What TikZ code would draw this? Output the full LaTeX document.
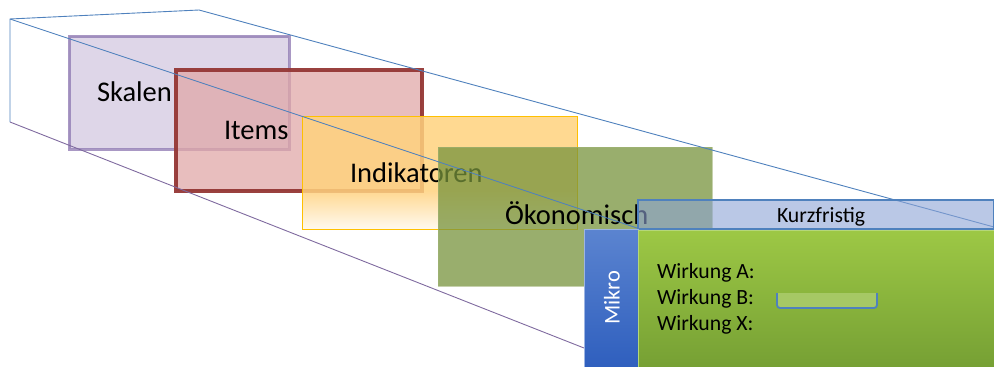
\documentclass[tikz,border=0pt]{standalone}
\usepackage{fontspec}
\setmainfont{Carlito}

\definecolor{skalenfill}{HTML}{D6CCE2}
\definecolor{skalenline}{HTML}{8C76B0}
\definecolor{itemsfill}{HTML}{E0A8A8}
\definecolor{itemsline}{HTML}{953735}
\definecolor{indfill}{HTML}{FFD27E}
\definecolor{indline}{HTML}{FFC000}
\definecolor{oekofill}{HTML}{77933C}
\definecolor{kurzfill}{HTML}{8CA3D5}
\definecolor{kurzline}{HTML}{4F81BD}
\definecolor{mikrotop}{HTML}{5B84D0}
\definecolor{mikrobottom}{HTML}{2F5FBE}
\definecolor{paneltop}{HTML}{9DC845}
\definecolor{panelbottom}{HTML}{76A034}
\definecolor{panelline}{HTML}{B5D77A}
\definecolor{slotfill}{HTML}{A6C865}
\definecolor{boxblue}{HTML}{4F81BD}
\definecolor{boxpurple}{HTML}{7F6A9F}

\pgfdeclareverticalshading{indshade}{100bp}{color(0bp)=(white); color(25bp)=(white!85!indfill); color(42bp)=(indfill); color(100bp)=(indfill)}

\begin{document}
\begin{tikzpicture}[x=1pt,y=-1pt]
            \tikzstyle{every node}=[inner sep=0pt, outer sep=0pt]
            \tikzstyle{layer}=[rectangle, anchor=north west]
            \tikzstyle{biglabel}=[anchor=base west, font=\fontsize{28.5}{34}\selectfont]
            \tikzstyle{smalllabel}=[anchor=base west, font=\fontsize{21.7}{26}\selectfont]
            \tikzstyle{edge}=[line width=0.9pt]

            \useasboundingbox (0,0) rectangle (994,367);

            \coordinate (backTL) at (10,19);
            \coordinate (backTR) at (199,10);
            \coordinate (backBL) at (10,122);
            \coordinate (frontTR) at (994,227);
            \coordinate (frontTL) at (637,228);
            \coordinate (frontBL) at (584,348);

            \draw[edge, boxblue] (backBL) -- (backTL) -- (backTR);

            \node[layer, fill=skalenfill, fill opacity=0.8, draw=skalenline, draw opacity=0.75, line width=3pt,
                  minimum width=220pt, minimum height=113pt] (skalen) at (69,36) {};
            \node[biglabel] (skalentxt) at (97,101) {Skalen};

            \node[layer, fill=itemsfill, fill opacity=0.75, draw=itemsline, draw opacity=0.95, line width=3.5pt,
                  minimum width=246pt, minimum height=121pt] (items) at (176,70) {};
            \node[biglabel] (itemstxt) at (224,139) {Items};

            \node[layer, shading=indshade, fill opacity=0.85, draw=indline, line width=1pt,
                  minimum width=275pt, minimum height=113pt] (indikatoren) at (302,116) {};
            \node[biglabel] (indikatorentxt) at (350,182) {Indikatoren};

            \node[layer, fill=oekofill, fill opacity=0.75, draw=oekofill!70!white, draw opacity=0.6, line width=1pt,
                  minimum width=274pt, minimum height=139pt] (oeko) at (438,147) {};
            \node[biglabel] (oekotxt) at (505,224) {Ökonomisch};

            \draw[edge, boxblue] (backTR) -- (frontTR);
            \draw[edge, boxblue] (backTL) -- (frontTL);
            \draw[edge, boxpurple] (backBL) -- (frontBL);

            \node[layer, fill=kurzfill, fill opacity=0.6, draw=kurzline, line width=1.3pt,
                  minimum width=356pt, minimum height=29pt] (kurz) at (638,200) {};
            \node[smalllabel] (kurztxt) at (777,222) {Kurzfristig};

            \node[layer, top color=mikrotop, bottom color=mikrobottom, draw=mikrotop!60!white, line width=0.8pt,
                  minimum width=54pt, minimum height=138pt] (mikro) at (584,229) {};
            \node[rotate=90, white, font=\fontsize{22.5}{26}\selectfont] (mikrotxt) at (612,298) {Mikro};

            \node[layer, top color=paneltop, bottom color=panelbottom, draw=panelline, line width=0.8pt,
                  minimum width=356pt, minimum height=137pt] (panel) at (638,230) {};
            \node[smalllabel] (wirkungA) at (657,278) {Wirkung A:};
            \node[smalllabel] (wirkungB) at (657,304) {Wirkung B:};
            \node[smalllabel] (wirkungX) at (657,330) {Wirkung X:};

            \node[layer, fill=slotfill, minimum width=100pt, minimum height=15pt] (slot) at (777,293) {};
            \draw[boxblue, line width=1.8pt, rounded corners=3pt]
                (slot.north west) -- (slot.south west) -- (slot.south east) -- (slot.north east);
        \end{tikzpicture}
\end{document}
